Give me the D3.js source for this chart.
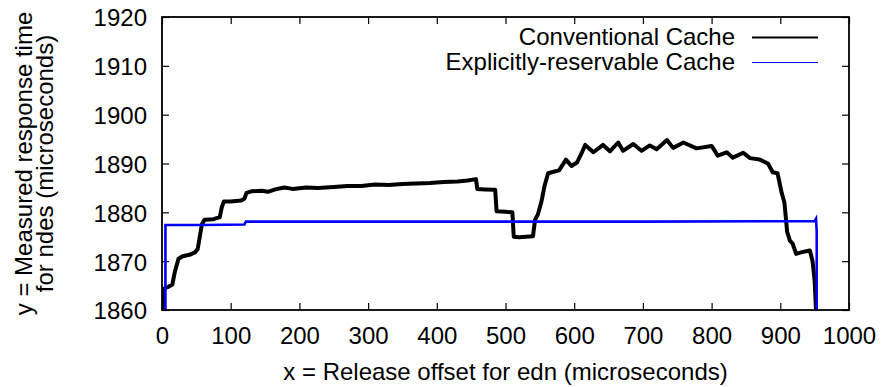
<!DOCTYPE html>
<html>
<head>
<meta charset="utf-8">
<script src="https://cdn.jsdelivr.net/npm/d3@7"></script>
<style>
  html, body { margin: 0; padding: 0; background: #fff; }
  svg { display: block; }
  text { font-family: "Liberation Sans", Arial, Helvetica, sans-serif; fill: #000; }
</style>
</head>
<body>
<svg id="chart" width="881" height="387"></svg>
<script>
// ---- data ----
const xTicks = [0, 100, 200, 300, 400, 500, 600, 700, 800, 900, 1000];
const yTicks = [1860, 1870, 1880, 1890, 1900, 1910, 1920];
const seriesNames = ["Conventional Cache", "Explicitly-reservable Cache"];

const convX = [1, 2, 4, 10, 15, 19, 24, 30, 40, 48, 52, 55, 58, 62, 75, 84, 87, 90, 100, 115, 120, 123, 130, 145, 154, 165, 178, 190, 210, 227, 250, 270, 290, 310, 330, 350, 370, 390, 410, 430, 445, 457, 459, 470, 485, 487, 500, 510, 512, 520, 530, 540, 543, 547, 552, 557, 562, 570, 578, 588, 596, 604, 612, 616, 628, 642, 652, 664, 671, 686, 698, 710, 720, 735, 744, 759, 778, 800, 809, 822, 831, 846, 856, 870, 882, 889, 896, 902, 906, 910, 914, 918, 923, 930, 943, 947, 950, 952];
const convY = [1860, 1863.5, 1864.5, 1864.8, 1865.2, 1868, 1870.5, 1871, 1871.3, 1871.8, 1872.5, 1875, 1877.5, 1878.5, 1878.6, 1879, 1881, 1882.2, 1882.2, 1882.4, 1882.8, 1884, 1884.3, 1884.4, 1884.2, 1884.7, 1885.1, 1884.8, 1885.1, 1885, 1885.2, 1885.4, 1885.4, 1885.7, 1885.6, 1885.8, 1885.9, 1886, 1886.2, 1886.3, 1886.5, 1886.8, 1884.8, 1884.7, 1884.6, 1880.2, 1880.1, 1880, 1875, 1874.9, 1875, 1875.1, 1878.5, 1879.5, 1882, 1885.5, 1888, 1888.3, 1888.6, 1890.8, 1889.5, 1890.2, 1892.5, 1893.8, 1892.3, 1893.8, 1892.5, 1894.3, 1892.6, 1894, 1892.6, 1893.7, 1892.9, 1894.8, 1893.2, 1894.3, 1893.1, 1893.6, 1891.6, 1892.3, 1891.2, 1892.2, 1891.1, 1890.8, 1890, 1888.2, 1888, 1884, 1882, 1876, 1874.2, 1873.6, 1871.5, 1871.8, 1872.2, 1870, 1866, 1860];

const explX = [5, 5, 60, 120, 122, 300, 500, 700, 950, 952, 953, 953];
const explY = [1860, 1877.4, 1877.4, 1877.5, 1878.1, 1878.1, 1878.1, 1878.1, 1878.2, 1878.7, 1876, 1860];

// ---- layout ----
const L = 162, R = 849, T = 17, B = 310;
const svg = d3.select("#chart");
const x = d3.scaleLinear().domain([0, 1000]).range([L, R]);
const y = d3.scaleLinear().domain([1860, 1920]).range([B, T]);

const fs = 24;
const fmt = d3.format("d");

// axes (inward ticks on all four sides)
const tk = 7;
const gB = svg.append("g").attr("transform", `translate(0,${B})`)
  .call(d3.axisBottom(x).tickValues(xTicks).tickFormat(fmt).tickSizeInner(-tk).tickSizeOuter(0).tickPadding(17));
const gT = svg.append("g").attr("transform", `translate(0,${T})`)
  .call(d3.axisTop(x).tickValues(xTicks).tickSizeInner(-tk).tickSizeOuter(0).tickFormat(""));
const gL = svg.append("g").attr("transform", `translate(${L},0)`)
  .call(d3.axisLeft(y).tickValues(yTicks).tickFormat(fmt).tickSizeInner(-tk).tickSizeOuter(0).tickPadding(15));
const gR = svg.append("g").attr("transform", `translate(${R},0)`)
  .call(d3.axisRight(y).tickValues(yTicks).tickSizeInner(-tk).tickSizeOuter(0).tickFormat(""));

[gB, gT, gL, gR].forEach(g => {
  g.select(".domain").remove();
  g.selectAll(".tick line").attr("stroke", "#000").attr("stroke-width", 1.2);
  g.selectAll("text").attr("font-size", fs).attr("font-family", "Liberation Sans, Arial, sans-serif").attr("fill", "#000");
});
gB.selectAll(".tick text").attr("dy", "0.71em");
gL.selectAll(".tick text").attr("dy", "0.37em");

// data lines
svg.append("clipPath").attr("id", "clip")
  .append("rect").attr("x", L).attr("y", T).attr("width", R - L).attr("height", B - T);

const line = d3.line().x(d => x(d[0])).y(d => y(d[1]));
const conv = convX.map((v, i) => [v, convY[i]]);
const expl = explX.map((v, i) => [v, explY[i]]);

const plot = svg.append("g").attr("clip-path", "url(#clip)");
plot.append("path").datum(conv).attr("d", line)
  .attr("fill", "none").attr("stroke", "#000").attr("stroke-width", 4)
  .attr("stroke-linejoin", "round").attr("stroke-linecap", "round");
plot.append("path").datum(expl).attr("d", line)
  .attr("fill", "none").attr("stroke", "#0000ff").attr("stroke-width", 2.6)
  .attr("stroke-linejoin", "miter");

// frame
svg.append("rect").attr("x", L).attr("y", T).attr("width", R - L).attr("height", B - T)
  .attr("fill", "none").attr("stroke", "#000").attr("stroke-width", 1.8);

// legend
const legend = svg.append("g");
const legRows = [
  { name: seriesNames[0], color: "#000", w: 2.2, base: 45 },
  { name: seriesNames[1], color: "#0000ff", w: 1.2, base: 70 }
];
legRows.forEach(r => {
  legend.append("text").attr("x", 735).attr("y", r.base).attr("text-anchor", "end")
    .attr("font-size", fs).text(r.name);
  legend.append("line").attr("x1", 752).attr("x2", 818)
    .attr("y1", r.base - 7.5).attr("y2", r.base - 7.5)
    .attr("stroke", r.color).attr("stroke-width", r.w);
});

// axis titles
svg.append("text").attr("x", (L + R) / 2).attr("y", 380).attr("text-anchor", "middle")
  .attr("font-size", fs).text("x = Release offset for edn (microseconds)");
const cy = (T + B) / 2;
svg.append("text").attr("transform", `translate(32,${cy}) rotate(-90)`)
  .attr("text-anchor", "middle").attr("font-size", fs).text("y = Measured response time");
svg.append("text").attr("transform", `translate(53,${cy}) rotate(-90)`)
  .attr("text-anchor", "middle").attr("font-size", fs).text("for ndes (microseconds)");
</script>
</body>
</html>
